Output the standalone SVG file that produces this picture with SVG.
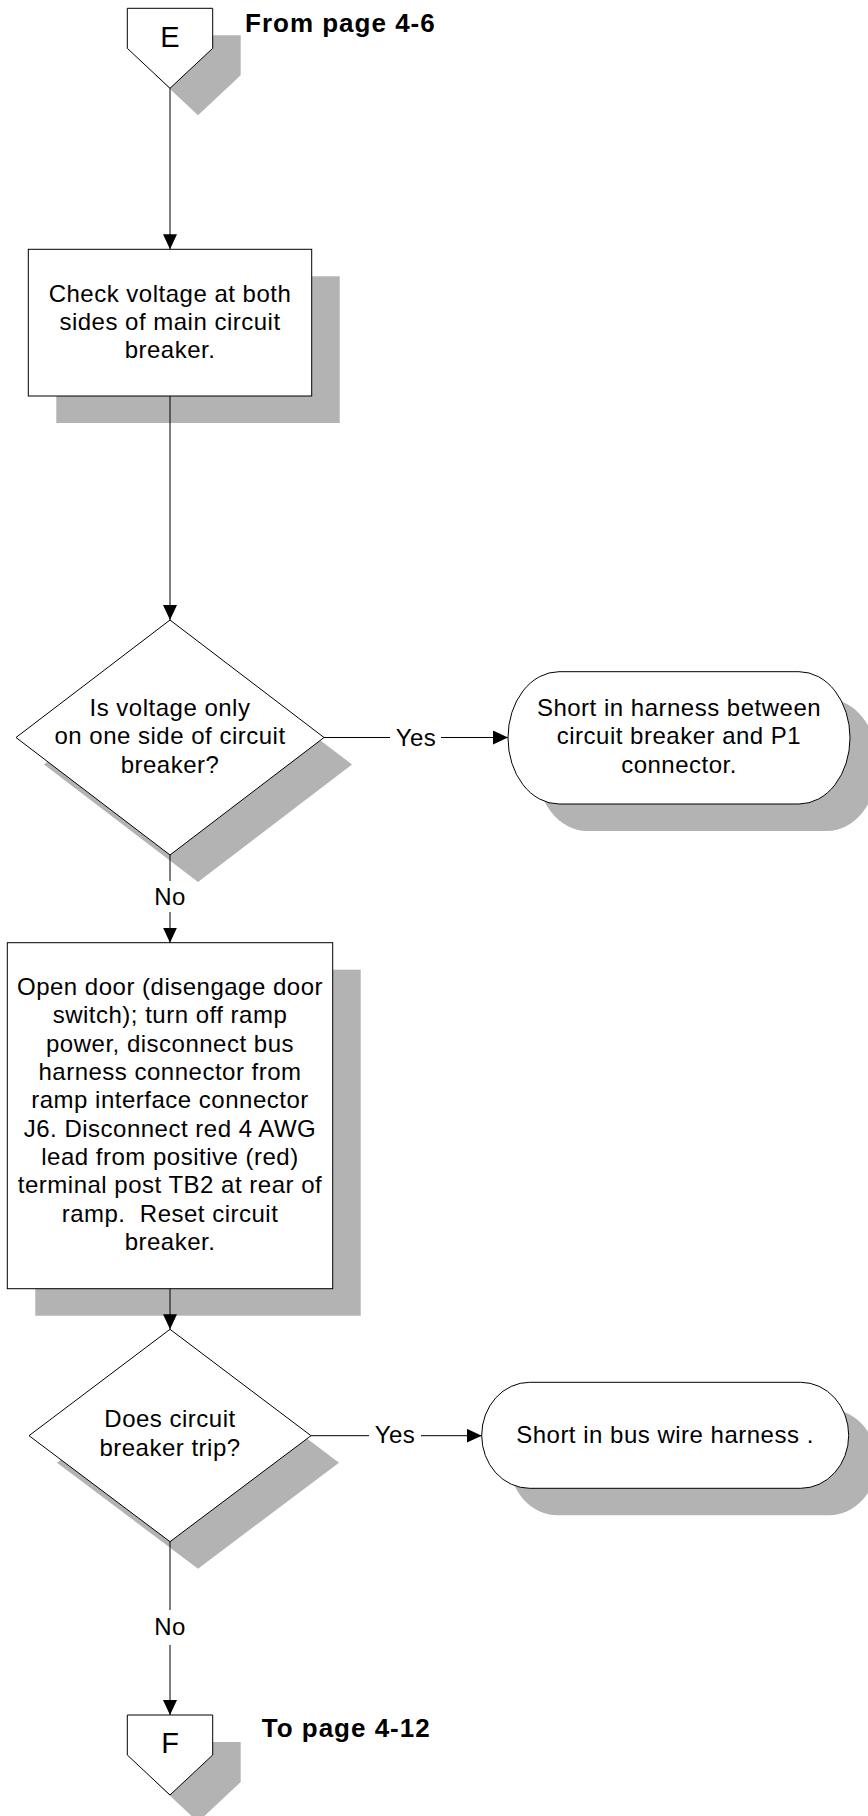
<svg xmlns="http://www.w3.org/2000/svg" width="868" height="1816" viewBox="0 0 868 1816">
<defs>
<style>
.sh{fill:#b3b3b3;stroke:none}
.shape{fill:#fff;stroke:#000;stroke-width:1}
.t{font-family:"Liberation Sans",Arial,sans-serif;font-size:24px;letter-spacing:0.5px;fill:#000;text-anchor:middle}
.big{font-family:"Liberation Sans",Arial,sans-serif;font-size:29px;fill:#000;text-anchor:middle}
.pg{font-family:"Liberation Sans",Arial,sans-serif;font-size:26px;font-weight:bold;letter-spacing:1px;fill:#000}
.c{fill:none;stroke:#000;stroke-width:1}
.pre{white-space:pre}
</style>
<marker id="ah" markerUnits="userSpaceOnUse" markerWidth="16" markerHeight="16" refX="15" refY="7" orient="auto">
<path d="M0,0 L15,7 L0,14 z" fill="#000"/>
</marker>
</defs>
<rect width="868" height="1816" fill="#fff"/>

<g id="nodeE">
<polygon class="sh" points="155.3,35.3 240.7,35.3 240.7,75.3 198,115.3 155.3,75.3"/>
<polygon class="shape" points="127.3,8.3 212.7,8.3 212.7,48.3 170,88.3 127.3,48.3"/>
<text class="big" x="170" y="46.7">E</text>
<text class="pg" x="245" y="31.7">From page 4-6</text>
</g>

<g id="checkVoltage">
<rect class="sh" x="56.3" y="276.3" width="283.4" height="146.7"/>
<rect class="shape" x="28.3" y="249.3" width="283.4" height="146.7"/>
<text class="t" x="170" y="301.7">Check voltage at both</text>
<text class="t" x="170" y="330">sides of main circuit</text>
<text class="t" x="170" y="358.3">breaker.</text>
</g>

<g id="decision1">
<polygon class="sh" points="198,647 352,764.5 198,882 44,764.5"/>
<polygon class="shape" points="170,620 324,737.5 170,855 16,737.5"/>
<text class="t" x="170" y="716">Is voltage only</text>
<text class="t" x="170" y="744.3">on one side of circuit</text>
<text class="t" x="170" y="772.7">breaker?</text>
</g>

<g id="term1">
<rect class="sh" x="536" y="698.7" width="342" height="132.3" rx="51" ry="66"/>
<rect class="shape" x="508" y="671.7" width="342" height="132.3" rx="51" ry="66"/>
<text class="t" x="679" y="716">Short in harness between</text>
<text class="t" x="679" y="744.3">circuit breaker and P1</text>
<text class="t" x="679" y="772.7">connector.</text>
</g>

<g id="openDoor">
<rect class="sh" x="35.3" y="969.7" width="325.4" height="346"/>
<rect class="shape" x="7.3" y="942.7" width="325.4" height="346"/>
<text class="t" x="170" y="995">Open door (disengage door</text>
<text class="t" x="170" y="1023.3">switch); turn off ramp</text>
<text class="t" x="170" y="1051.7">power, disconnect bus</text>
<text class="t" x="170" y="1080">harness connector from</text>
<text class="t" x="170" y="1108.3">ramp interface connector</text>
<text class="t" x="170" y="1136.7">J6. Disconnect red 4 AWG</text>
<text class="t" x="170" y="1165">lead from positive (red)</text>
<text class="t" x="170" y="1193.3">terminal post TB2 at rear of</text>
<text class="t pre" x="170" y="1221.7" xml:space="preserve">ramp.  Reset circuit</text>
<text class="t" x="170" y="1250">breaker.</text>
</g>

<g id="decision2">
<polygon class="sh" points="198,1356.3 339,1462.7 198,1568.7 57,1462.7"/>
<polygon class="shape" points="170,1329.3 311,1435.7 170,1541.7 29,1435.7"/>
<text class="t" x="170" y="1427.3">Does circuit</text>
<text class="t" x="170" y="1455.7">breaker trip?</text>
</g>

<g id="term2">
<rect class="sh" x="509.7" y="1409.3" width="367" height="106" rx="48" ry="53"/>
<rect class="shape" x="481.7" y="1382.3" width="367" height="106" rx="48" ry="53"/>
<text class="t" x="665" y="1443">Short in bus wire harness .</text>
</g>

<g id="nodeF">
<polygon class="sh" points="155.3,1742 240.7,1742 240.7,1782 198,1822 155.3,1782"/>
<polygon class="shape" points="127.3,1715 212.7,1715 212.7,1755 170,1795 127.3,1755"/>
<text class="big" x="170" y="1753">F</text>
<text class="pg" x="261.7" y="1736.7">To page 4-12</text>
</g>

<g id="connectors">
<line class="c" x1="170" y1="88.3" x2="170" y2="249.3" marker-end="url(#ah)"/>
<line class="c" x1="170" y1="396" x2="170" y2="620" marker-end="url(#ah)"/>
<line class="c" x1="324" y1="737.5" x2="390" y2="737.5"/>
<line class="c" x1="441" y1="737.5" x2="508" y2="737.5" marker-end="url(#ah)"/>
<text class="t" x="416" y="745.5">Yes</text>
<line class="c" x1="170" y1="855" x2="170" y2="881"/>
<line class="c" x1="170" y1="912" x2="170" y2="942.7" marker-end="url(#ah)"/>
<text class="t" x="170" y="905">No</text>
<line class="c" x1="170" y1="1288.7" x2="170" y2="1329.3" marker-end="url(#ah)"/>
<line class="c" x1="311" y1="1435.7" x2="369" y2="1435.7"/>
<line class="c" x1="421" y1="1435.7" x2="481.7" y2="1435.7" marker-end="url(#ah)"/>
<text class="t" x="395" y="1443">Yes</text>
<line class="c" x1="170" y1="1541.7" x2="170" y2="1610"/>
<line class="c" x1="170" y1="1645" x2="170" y2="1715" marker-end="url(#ah)"/>
<text class="t" x="170" y="1635">No</text>
</g>
</svg>
